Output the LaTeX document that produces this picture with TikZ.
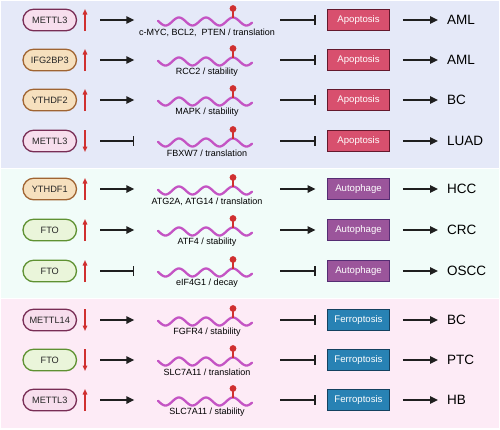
\documentclass[tikz,border=0pt]{standalone}
\usepackage{fontspec}
\setmainfont{Liberation Sans}
\usetikzlibrary{arrows.meta}

\definecolor{bandA}{RGB}{229,233,248}
\definecolor{bandB}{RGB}{241,252,249}
\definecolor{bandC}{RGB}{253,235,246}
\definecolor{writerfill}{RGB}{247,222,237}
\definecolor{writerline}{RGB}{120,45,85}
\definecolor{readerfill}{RGB}{246,224,190}
\definecolor{readerline}{RGB}{160,100,50}
\definecolor{eraserfill}{RGB}{234,245,218}
\definecolor{eraserline}{RGB}{95,145,50}
\definecolor{apopfill}{RGB}{216,80,110}
\definecolor{apopline}{RGB}{100,25,45}
\definecolor{autofill}{RGB}{155,85,155}
\definecolor{autoline}{RGB}{85,45,115}
\definecolor{ferrofill}{RGB}{40,130,180}
\definecolor{ferroline}{RGB}{20,65,95}
\definecolor{redmark}{RGB}{208,48,48}
\definecolor{rnacol}{RGB}{196,84,196}

\tikzset{
  pill/.style={draw, line width=1.3pt, rounded corners=10.8pt, minimum width=53.5pt,
    minimum height=21.6pt, inner sep=0pt, text=black!85, font=\fontsize{9.2}{10}\selectfont},
  writer/.style={pill, fill=writerfill, draw=writerline},
  reader/.style={pill, fill=readerfill, draw=readerline},
  eraser/.style={pill, fill=eraserfill, draw=eraserline},
  box/.style={draw, line width=1.4pt, minimum width=61.5pt, minimum height=21.5pt,
    inner sep=0pt, text=white, font=\fontsize{9.6}{10}\selectfont},
  apop/.style={box, fill=apopfill, draw=apopline},
  autoph/.style={box, fill=autofill, draw=autoline},
  ferro/.style={box, fill=ferrofill, draw=ferroline},
  link/.style={line width=1.5pt, draw=black!88},
  promote/.style={-{Triangle[length=8pt,width=7.5pt]}},
  inhibit/.style={-{Bar[width=10pt]}},
  change/.style={line width=1.5pt, draw=redmark},
  raised/.style={-{Triangle[length=5.5pt,width=4.5pt]}},
  lowered/.style={{Triangle[length=5.5pt,width=4.5pt]}-},
  rnawave/.style={line width=2.3pt, draw=rnacol, line cap=round},
  rnalabel/.style={inner sep=0pt, font=\fontsize{9}{10}\selectfont},
  disease/.style={anchor=west, inner sep=0pt, font=\fontsize{13.5}{15}\selectfont}
}

\begin{document}
\begin{tikzpicture}[x=1pt, y=-1pt]
  \useasboundingbox (0,0) rectangle (500,429);
  \fill[bandA] (1,1) rectangle (499,168);
  \fill[bandB] (1,169) rectangle (499,298);
  \fill[bandC] (1,299) rectangle (499,428);

  \foreach \yc/\gene/\kind/\dir/\ta/\lab/\tb/\proc/\ptext/\dis [count=\i] in {
      20/METTL3/writer/raised/promote/{c-MYC, BCL2,~ PTEN / translation}/inhibit/apop/Apoptosis/AML,
      60/IFG2BP3/reader/raised/promote/{RCC2 / stability}/inhibit/apop/Apoptosis/AML,
      100/YTHDF2/reader/raised/promote/{MAPK / stability}/inhibit/apop/Apoptosis/BC,
      141/METTL3/writer/lowered/inhibit/{FBXW7 / translation}/inhibit/apop/Apoptosis/LUAD,
      189/YTHDF1/reader/raised/promote/{ATG2A, ATG14 / translation}/promote/autoph/Autophage/HCC,
      230/FTO/eraser/raised/promote/{ATF4 / stability}/promote/autoph/Autophage/CRC,
      271/FTO/eraser/raised/inhibit/{eIF4G1 / decay}/inhibit/autoph/Autophage/OSCC,
      320/METTL14/writer/lowered/promote/{FGFR4 / stability}/inhibit/ferro/Ferroptosis/BC,
      360/FTO/eraser/lowered/promote/{SLC7A11 / translation}/inhibit/ferro/Ferroptosis/PTC,
      400/METTL3/writer/raised/promote/{SLC7A11 / stability}/inhibit/ferro/Ferroptosis/HB} {
    \node[\kind] (gene\i) at (49.75,\yc) {\gene};
    \draw[change,\dir] (85,\yc+11) -- (85,\yc-11);
    \node[minimum width=94pt, minimum height=10pt, inner sep=0pt] (rna\i) at (205,\yc) {};
    \draw[rnawave] plot[domain=158:252, samples=90] (\x, {\yc+1.5-4*cos(13.33*(\x-233))});
    \draw[change] (233,\yc-2.5) -- (233,\yc-10);
    \fill[redmark] (233,\yc-11.5) circle (3.4pt);
    \node[rnalabel] (lab\i) at (207,\yc+12.5) {\lab};
    \node[\proc] (proc\i) at (358.5,\yc) {\ptext};
    \node[disease] (dis\i) at (447,\yc) {\dis};
    \draw[link,\ta, shorten <=23pt, shorten >=23.5pt] (gene\i) -- (rna\i);
    \draw[link,\tb, shorten <=28pt, shorten >=11.5pt] (rna\i) -- (proc\i);
    \draw[link,promote, shorten <=13pt, shorten >=9pt] (proc\i) -- (dis\i);
  }
\end{tikzpicture}
\end{document}
